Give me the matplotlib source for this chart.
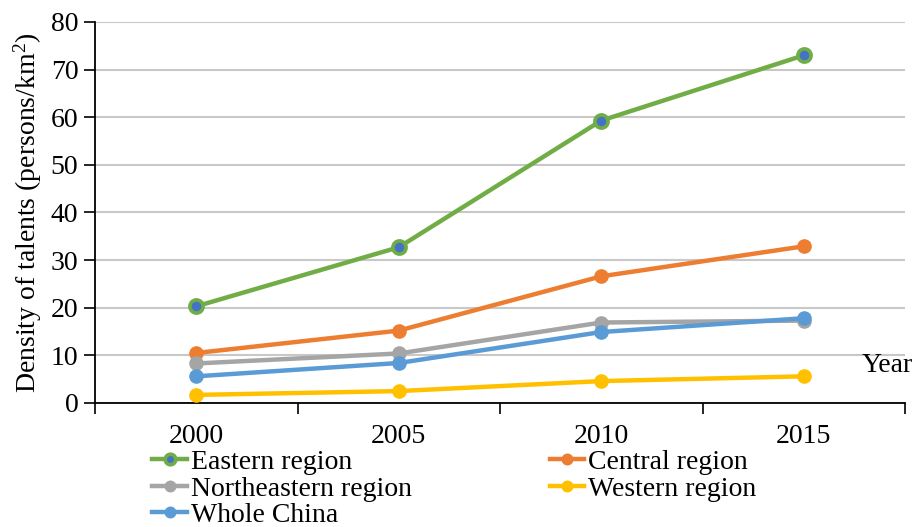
import numpy as np
import matplotlib
matplotlib.use("Agg")
import matplotlib.pyplot as plt

plt.rcParams['font.family'] = ['Liberation Serif', 'DejaVu Serif']
plt.rcParams['mathtext.fontset'] = 'custom'
plt.rcParams['mathtext.rm'] = 'Liberation Serif'
plt.rcParams['mathtext.it'] = 'Liberation Serif:italic'

years = ['2000', '2005', '2010', '2015']
eastern = [20.3, 32.7, 59.3, 73.0]
central = [10.5, 15.2, 26.6, 32.9]
northeastern = [8.3, 10.4, 16.9, 17.3]
western = [1.7, 2.5, 4.6, 5.6]
whole_china = [5.6, 8.4, 14.9, 17.8]

fs = 20
fig = plt.figure(figsize=(9.17, 5.27), dpi=100)
ax = fig.add_axes([0.1036, 0.2353, 0.8834, 0.7230])

x = np.arange(len(years))
lw = 3.2
ms = 9.5

h_e, = ax.plot(x, eastern, '-o', color='#70AD47', lw=lw, ms=ms,
               markerfacecolor='#4472C4', markeredgecolor='#70AD47', markeredgewidth=2.6,
               label='Eastern region', zorder=3)
h_c, = ax.plot(x, central, '-o', color='#ED7D31', lw=lw, ms=ms, label='Central region', zorder=3)
h_n, = ax.plot(x, northeastern, '-o', color='#A5A5A5', lw=lw, ms=ms, label='Northeastern region', zorder=3)
h_w, = ax.plot(x, western, '-o', color='#FFC000', lw=lw, ms=ms, label='Western region', zorder=3)
h_a, = ax.plot(x, whole_china, '-o', color='#5B9BD5', lw=lw, ms=ms, label='Whole China', zorder=3)

ax.set_xlim(-0.5, 3.5)
ax.set_ylim(0, 80)
ax.set_yticks(np.arange(0, 81, 10))
ax.set_xticks(x)
ax.set_xticklabels(years)
ax.set_xticks(np.arange(-0.5, 3.6, 1), minor=True)
ax.tick_params(axis='x', which='major', length=0, pad=15, labelsize=fs)
ax.tick_params(axis='x', which='minor', length=8, width=1.2, direction='out')
ax.tick_params(axis='y', length=8, width=1.2, direction='out', pad=4, labelsize=fs)

ax.grid(axis='y', color='#C8C8C8', lw=1.5, zorder=0)
ax.set_axisbelow(True)
for s in ['top', 'right']:
    ax.spines[s].set_visible(False)
for s in ['left', 'bottom']:
    ax.spines[s].set_linewidth(1.3)

ax.set_ylabel(r'Density of talents (persons/km$^{2}$)', fontsize=fs, labelpad=5)
ax.text(1.01, 6.5, 'Year', transform=ax.get_yaxis_transform(), fontsize=fs,
        ha='right', va='baseline')

fig.legend(handles=[h_e, h_n, h_a, h_c, h_w], loc='upper left',
           bbox_to_anchor=(0.166, 0.147), ncol=2, frameon=False, fontsize=fs,
           handlelength=1.25, handletextpad=0.15, labelspacing=0.04,
           columnspacing=4.95, borderpad=0, borderaxespad=0, markerscale=0.8)

fig.savefig('out.png', dpi=100)
